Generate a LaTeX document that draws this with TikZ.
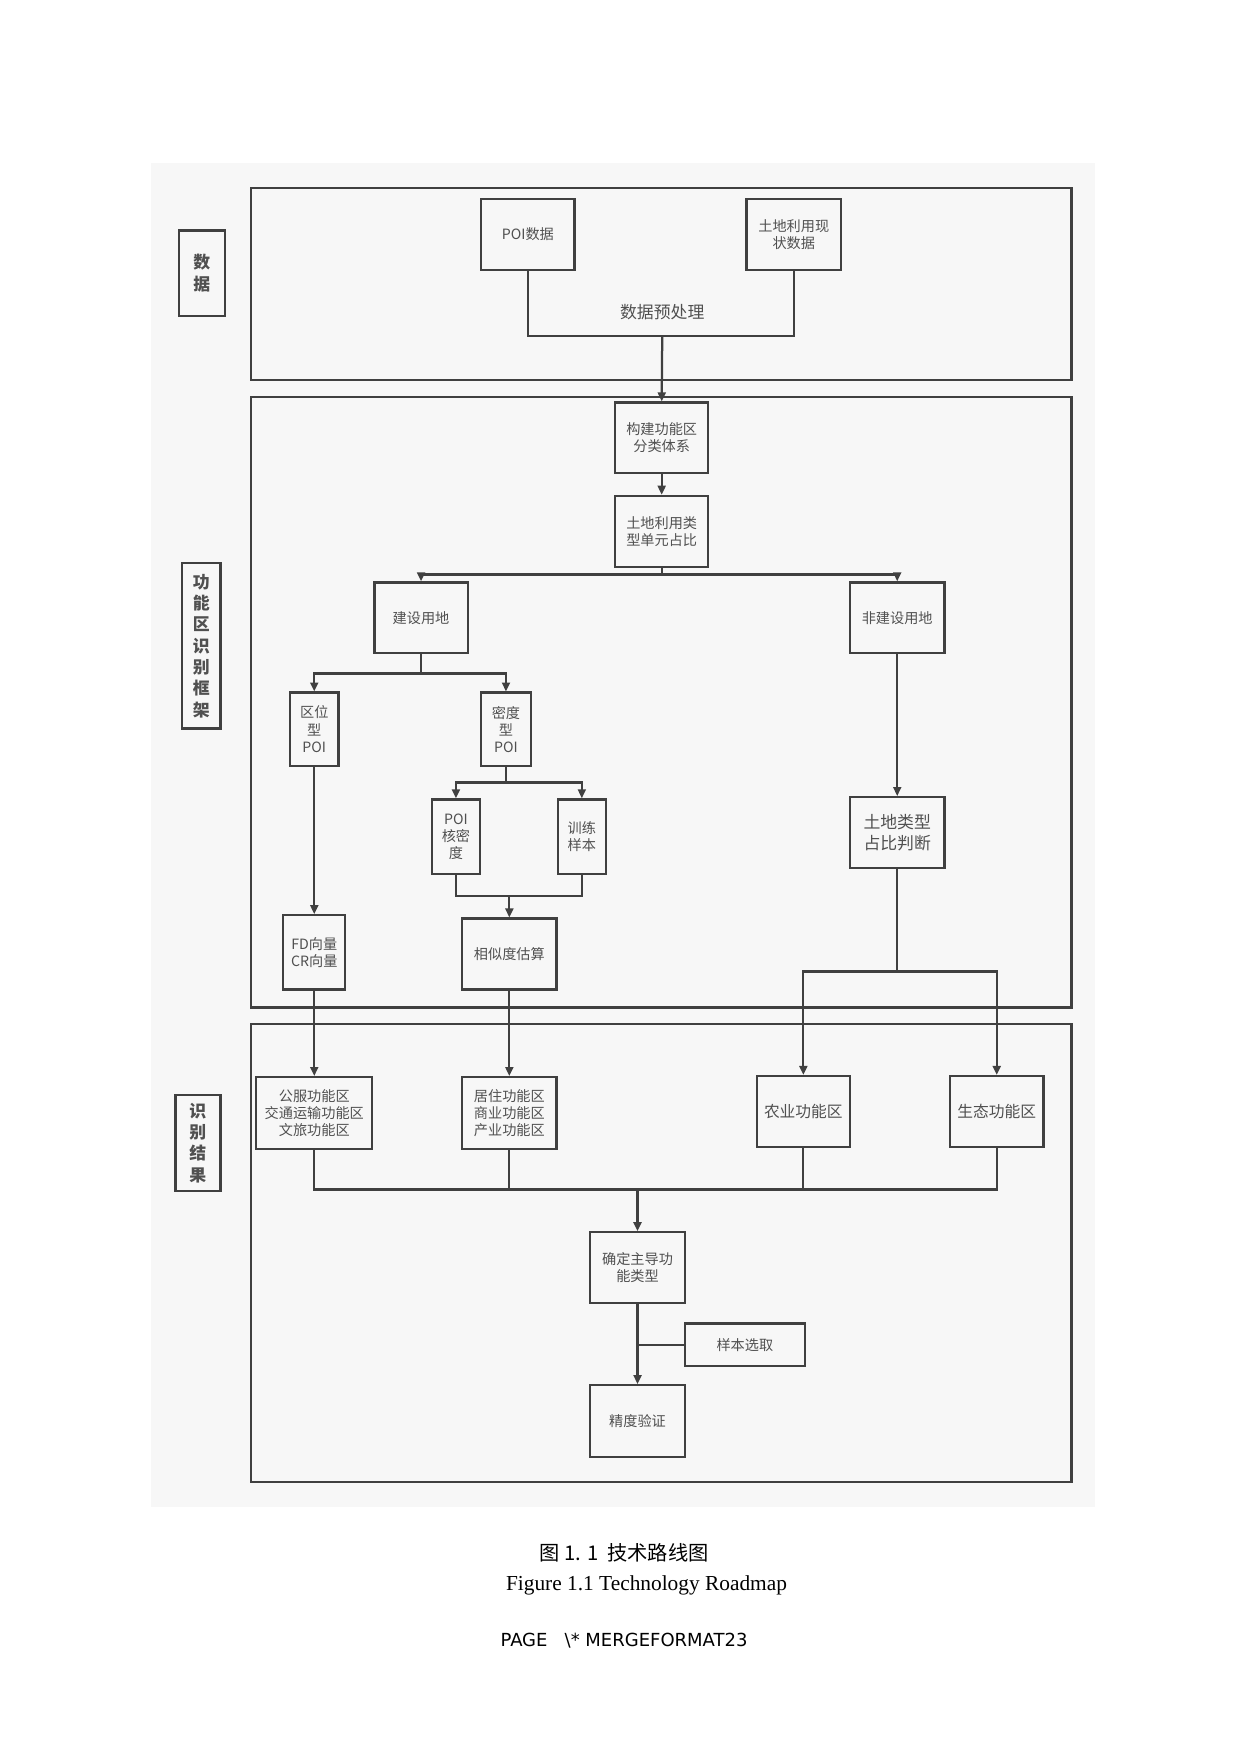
\documentclass[tikz,border=0pt]{standalone}
\usepackage{fontspec}
\setmainfont{Liberation Serif}
\newfontfamily\cjk{Noto Sans CJK SC}
\newfontfamily\sans{DejaVu Sans}
\usetikzlibrary{arrows.meta}
\definecolor{ln}{HTML}{404040}
\definecolor{tx}{HTML}{505050}
\begin{document}
\begin{tikzpicture}[x=0.5pt,y=-0.5pt,
 bx/.style={draw=ln,line width=1pt,align=center,inner sep=0pt,text=tx,font=\cjk\fontsize{6.3}{7.6}\selectfont},
 big/.style={font=\cjk\fontsize{7.5}{9}\selectfont},
 frame/.style={draw=ln,line width=1pt},
 ln/.style={draw=ln,line width=1pt},
 ar/.style={ln,-{Triangle[length=4pt,width=3.5pt]}},
 side/.style={bx,font=\cjk\bfseries\fontsize{7.5}{9.5}\selectfont}]
\useasboundingbox (0,0) rectangle (1103,1560);
\fill[gray!6] (134,145) rectangle (974,1340);
\draw[frame] (223,167) rectangle (953,338);
\draw[frame] (223,353) rectangle (953,896);
\draw[frame] (223,911) rectangle (953,1318);
\node[side,minimum width=20.5pt,minimum height=38pt] (s1) at (179.5,243) {数\\据};
\node[side,minimum width=17pt,minimum height=73.5pt] (s2) at (179,574.5) {功\\能\\区\\识\\别\\框\\架};
\node[side,minimum width=20pt,minimum height=42.5pt] (s3) at (176,1016.5) {识\\别\\结\\果};
\newcommand\bxx[6]{\node[bx,#6,minimum width=#3*0.5pt,minimum height=#4*0.5pt] (#1) at (#2) {#5};}
\bxx{poi}{469.5,208.5}{83}{63}{POI数据}{}
\bxx{tdxz}{706,208.5}{84}{63}{土地利用现\\状数据}{}
\node[text=tx,big] (pre) at (589,278) {数据预处理};
\bxx{gj}{588.5,389.5}{83}{63}{构建功能区\\分类体系}{}
\bxx{tdzb}{588.5,472.5}{83}{63}{土地利用类\\型单元占比}{}
\bxx{js}{374.5,549.5}{83}{63}{建设用地}{}
\bxx{fjs}{798,549.5}{84}{63}{非建设用地}{}
\bxx{qw}{279.5,648.5}{43}{65}{区位\\型\\POI}{}
\bxx{md}{450,648.5}{44}{65}{密度\\型\\POI}{}
\bxx{hmd}{405.5,744}{43}{66}{POI\\核密\\度}{}
\bxx{xl}{517.5,744}{43}{66}{训练\\样本}{}
\bxx{xs}{453,848.5}{84}{63}{相似度估算}{}
\bxx{fd}{279.5,847}{55}{66}{FD向量\\CR向量}{}
\bxx{tdlx}{798,740.5}{84}{63}{土地类型\\占比判断}{big}
\bxx{gf}{279.5,990}{103}{64}{公服功能区\\交通运输功能区\\文旅功能区}{}
\bxx{jz}{453,990}{84}{64}{居住功能区\\商业功能区\\产业功能区}{}
\bxx{ny}{714.5,988.5}{83}{63}{农业功能区}{font=\cjk\fontsize{7}{8}\selectfont}
\bxx{st}{886.5,988.5}{83}{63}{生态功能区}{font=\cjk\fontsize{7}{8}\selectfont}
\bxx{qd}{567,1127.5}{84}{63}{确定主导功\\能类型}{}
\bxx{jd}{567,1264}{84}{64}{精度验证}{}
\bxx{yb}{662.5,1196}{107}{38}{样本选取}{}
\coordinate (m1) at (589,299);
\draw[ln] (poi.south) |- (m1) -| (tdxz.south);
\draw[ar] (m1) -- (gj.north);
\draw[ar] (gj) -- (tdzb);
\draw[ln] (tdzb.south) -- (588.5,511);
\draw[ar] (588.5,511) -| (js.north);
\draw[ar] (588.5,511) -| (fjs.north);
\draw[ln] (js.south) -- (374.5,599);
\draw[ar] (374.5,599) -| (qw.north);
\draw[ar] (374.5,599) -| (md.north);
\draw[ln] (md.south) -- (450,696);
\draw[ar] (450,696) -| (hmd.north);
\draw[ar] (450,696) -| (xl.north);
\draw[ln] (hmd.south) |- (453,797) -| (xl.south);
\draw[ar] (453,797) -- (xs.north);
\draw[ar] (qw) -- (fd);
\draw[ar] (fjs) -- (tdlx);
\draw[ln] (tdlx.south) -- (798,864);
\draw[ar] (798,864) -| (ny.north);
\draw[ar] (798,864) -| (st.north);
\draw[ar] (fd) -- (gf);
\draw[ar] (xs) -- (jz);
\coordinate (m2) at (567,1058);
\draw[ln] (gf.south) |- (m2) (jz.south) |- (m2) (ny.south) |- (m2) (st.south) |- (m2);
\draw[ar] (m2) -- (qd.north);
\draw[ar] (qd) -- (jd);
\draw[ln] (yb.west) -- (567,1196);
\node[font=\cjk\fontsize{9}{11}\selectfont] (cap1) at (555,1381) {图 1. 1\ \ 技术路线图};
\node[font=\fontsize{9.5}{11}\selectfont] (cap2) at (575,1410) {Figure 1.1 Technology Roadmap};
\node[font=\sans\fontsize{8}{10}\selectfont] (cap3) at (555,1459) {PAGE \ \ \textbackslash* MERGEFORMAT23};
\end{tikzpicture}
\end{document}
